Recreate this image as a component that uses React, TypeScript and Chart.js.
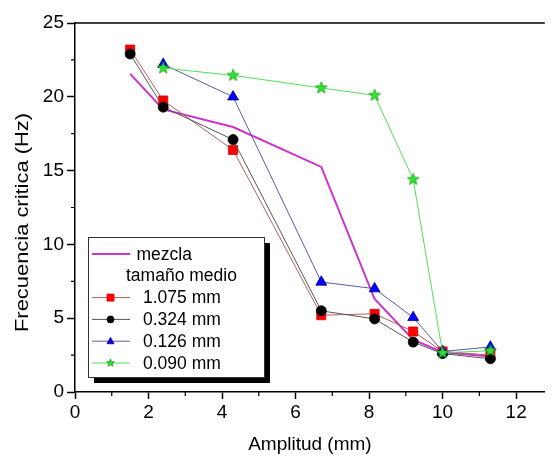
import React, { useEffect, useRef } from "react";
import { Chart, registerables } from "chart.js";

Chart.register(...registerables);

// ---- data ----
const ampMain = [1.5, 2.4, 4.3, 6.7, 8.15, 9.2, 10.0, 11.3];
const ampFine = [2.4, 4.3, 6.7, 8.15, 9.2, 10.0, 11.3];

const mezcla = [21.55, 19.15, 17.95, 15.25, 6.3, 3.55, 2.7, 2.4];
const s1075 = [23.2, 19.75, 16.4, 5.2, 5.3, 4.1, 2.75, 2.5];
const s0324 = [22.9, 19.3, 17.1, 5.5, 4.95, 3.38, 2.6, 2.25];
const s0126 = [22.2, 20.0, 7.45, 7.0, 5.05, 2.75, 3.05];
const s0090 = [21.95, 21.45, 20.6, 20.1, 14.4, 2.65, 2.8];

const legendLabels = ["mezcla", "1.075 mm", "0.324 mm", "0.126 mm", "0.090 mm"];
const legendHeader = "tamaño medio";
const xTitle = "Amplitud (mm)";
const yTitle = "Frecuencia critica (Hz)";

const xMajorTicks = [0, 2, 4, 6, 8, 10, 12];
const xMinorTicks = [1, 3, 5, 7, 9, 11];
const yMajorTicks = [0, 5, 10, 15, 20, 25];
const yMinorTicks = [2.5, 7.5, 12.5, 17.5, 22.5];

const xMin = 0;
const xMax = 12.78;
const yMin = 0;
const yMax = 25;

const FONT = "'Liberation Sans', Arial, sans-serif";

function starPath(ctx: CanvasRenderingContext2D, cx: number, cy: number, ro: number, ri: number) {
  ctx.beginPath();
  for (let i = 0; i < 10; i++) {
    const r = i % 2 === 0 ? ro : ri;
    const a = -Math.PI / 2 + (i * Math.PI) / 5;
    const px = cx + r * Math.cos(a);
    const py = cy + r * Math.sin(a);
    if (i === 0) ctx.moveTo(px, py);
    else ctx.lineTo(px, py);
  }
  ctx.closePath();
}

function makeStar(size: number, ro: number, ri: number) {
  const c = document.createElement("canvas");
  c.width = size;
  c.height = size;
  const g = c.getContext("2d")!;
  starPath(g, size / 2, size / 2, ro, ri);
  g.fillStyle = "#2ee62e";
  g.fill();
  g.strokeStyle = "#169a16";
  g.lineWidth = 0.8;
  g.stroke();
  return c;
}

function drawMarker(ctx: CanvasRenderingContext2D, style: string, x: number, y: number, s: number, fill: string, stroke: string) {
  ctx.save();
  ctx.fillStyle = fill;
  ctx.strokeStyle = stroke;
  ctx.lineWidth = 0.8;
  ctx.beginPath();
  if (style === "rect") {
    ctx.rect(x - s / 2, y - s / 2, s, s);
  } else if (style === "circle") {
    ctx.arc(x, y, s / 2, 0, Math.PI * 2);
  } else if (style === "triangle") {
    const h = s * 0.9;
    ctx.moveTo(x, y - h * 0.6);
    ctx.lineTo(x + s / 2, y + h * 0.4);
    ctx.lineTo(x - s / 2, y + h * 0.4);
    ctx.closePath();
  } else if (style === "star") {
    starPath(ctx, x, y, s / 2 + 0.5, (s / 2 + 0.5) * 0.42);
  }
  if (style !== "none") {
    ctx.fill();
    ctx.stroke();
  }
  ctx.restore();
}

export default function App() {
  const ref = useRef<HTMLCanvasElement | null>(null);

  useEffect(() => {
    if (!ref.current) return;
    const star = makeStar(14, 6.2, 2.6);

    const series = [
      { label: legendLabels[4], xs: ampFine, ys: s0090, line: "#55dd55", fill: "#2ee62e", edge: "#169a16", style: "star", r: 6, lw: 1 },
      { label: legendLabels[3], xs: ampFine, ys: s0126, line: "#5a5aa8", fill: "#0000ff", edge: "#000088", style: "triangle", r: 6.3, lw: 1 },
      { label: legendLabels[2], xs: ampMain, ys: s0324, line: "#555555", fill: "#000000", edge: "#000000", style: "circle", r: 5, lw: 1 },
      { label: legendLabels[1], xs: ampMain, ys: s1075, line: "#b0605a", fill: "#ff0000", edge: "#cc0000", style: "rect", r: 6.4, lw: 1 },
      { label: legendLabels[0], xs: ampMain, ys: mezcla, line: "#cc33cc", fill: "#cc33cc", edge: "#cc33cc", style: "none", r: 0, lw: 2 },
    ];

    const datasets = series.map((s) => ({
      label: s.label,
      data: s.xs.map((x, i) => ({ x, y: s.ys[i] })),
      borderColor: s.line,
      borderWidth: s.lw,
      backgroundColor: s.fill,
      pointBackgroundColor: s.fill,
      pointBorderColor: s.edge,
      pointBorderWidth: 0.8,
      pointRadius: s.r,
      pointStyle: s.style === "star" ? (star as any) : s.style === "none" ? false : s.style,
      tension: 0,
      fill: false,
    }));

    const legendOrder = [4, 3, 2, 1, 0];

    const decor = {
      id: "decor",
      afterDraw(chart: any) {
        const ctx: CanvasRenderingContext2D = chart.ctx;
        const area = chart.chartArea;
        const xs = chart.scales.x;
        const ys = chart.scales.y;
        ctx.save();
        // top frame line
        ctx.strokeStyle = "#000";
        ctx.lineWidth = 1.5;
        ctx.beginPath();
        ctx.moveTo(area.left, area.top);
        ctx.lineTo(area.right, area.top);
        ctx.stroke();
        // minor ticks
        ctx.lineWidth = 1.2;
        ctx.beginPath();
        xMinorTicks.forEach((v) => {
          const px = xs.getPixelForValue(v);
          ctx.moveTo(px, area.bottom);
          ctx.lineTo(px, area.bottom + 4);
        });
        yMinorTicks.forEach((v) => {
          const py = ys.getPixelForValue(v);
          ctx.moveTo(area.left, py);
          ctx.lineTo(area.left - 4, py);
        });
        ctx.stroke();

        // titles
        ctx.fillStyle = "#000";
        ctx.font = `19px ${FONT}`;
        ctx.textAlign = "center";
        ctx.textBaseline = "alphabetic";
        ctx.fillText(xTitle, (area.left + area.right) / 2, area.bottom + 58);

        ctx.save();
        ctx.translate(27.5, (area.top + area.bottom) / 2 + 15);
        ctx.rotate(-Math.PI / 2);
        ctx.font = `18.5px ${FONT}`;
        const w = ctx.measureText(yTitle).width;
        ctx.scale(219 / w, 1);
        ctx.fillText(yTitle, 0, 0);
        ctx.restore();

        // legend
        const L = Math.round(area.left + 13);
        const T = Math.round(ys.getPixelForValue(10.48));
        const W = 176;
        const H = 140;
        ctx.fillStyle = "#000";
        ctx.fillRect(L + 6, T + 6, W, H);
        ctx.fillStyle = "#fff";
        ctx.fillRect(L, T, W, H);
        ctx.strokeStyle = "#333";
        ctx.lineWidth = 1;
        ctx.strokeRect(L + 0.5, T + 0.5, W, H);

        ctx.font = `17.5px ${FONT}`;
        ctx.textAlign = "left";
        ctx.textBaseline = "middle";
        const step = 21.8;
        let y = T + 17;
        legendOrder.forEach((idx, k) => {
          const s = series[idx];
          if (k === 1) {
            ctx.fillStyle = "#000";
            ctx.fillText(legendHeader, L + 38, y);
            y += step;
          }
          ctx.strokeStyle = s.line;
          ctx.lineWidth = s.lw;
          ctx.beginPath();
          ctx.moveTo(L + 4, y);
          ctx.lineTo(L + 42, y);
          ctx.stroke();
          if (s.style !== "none") {
            drawMarker(ctx, s.style, L + 22.5, y, 7, s.fill, s.edge);
          }
          ctx.fillStyle = "#000";
          ctx.fillText(s.label, s.style === "none" ? L + 48.5 : L + 55, y + 1);
          y += step;
        });
        ctx.restore();
      },
    };

    const tickFont = { family: FONT, size: 19 };

    const chart = new Chart(ref.current, {
      type: "line",
      data: { datasets: datasets as any },
      options: {
        animation: false,
        responsive: false,
        devicePixelRatio: 1,
        layout: { padding: { left: 0, top: 23, right: 0, bottom: 0 } },
        plugins: { legend: { display: false }, tooltip: { enabled: false }, title: { display: false } },
        scales: {
          x: {
            type: "linear",
            position: "bottom",
            min: xMin,
            max: xMax,
            afterBuildTicks: (s: any) => {
              s.ticks = xMajorTicks.map((v) => ({ value: v }));
            },
            ticks: {
              autoSkip: false,
              maxRotation: 0,
              padding: 2,
              color: "#000",
              font: tickFont,
              callback: (v: any) => String(v),
            },
            grid: {
              drawOnChartArea: false,
              drawTicks: true,
              tickLength: 7,
              tickWidth: 1.5,
              tickColor: "#000",
            },
            border: { display: true, color: "#000", width: 1.5 },
            afterFit: (s: any) => {
              s.height = 65;
            },
          },
          y: {
            type: "linear",
            min: yMin,
            max: yMax,
            afterBuildTicks: (s: any) => {
              s.ticks = yMajorTicks.map((v) => ({ value: v }));
            },
            ticks: {
              autoSkip: false,
              padding: 3,
              color: "#000",
              font: tickFont,
              callback: (v: any) => String(v),
            },
            grid: {
              drawOnChartArea: false,
              drawTicks: true,
              tickLength: 8,
              tickWidth: 1.5,
              tickColor: "#000",
            },
            border: { display: true, color: "#000", width: 1.5 },
            afterFit: (s: any) => {
              s.width = 75;
            },
          },
        },
      },
      plugins: [decor],
    });
    return () => chart.destroy();
  }, []);

  return (
    <div style={{ position: "absolute", left: 0, top: 0, width: 552, height: 457, background: "#fff" }}>
      <canvas ref={ref} width={552} height={457} style={{ display: "block" }} />
    </div>
  );
}
